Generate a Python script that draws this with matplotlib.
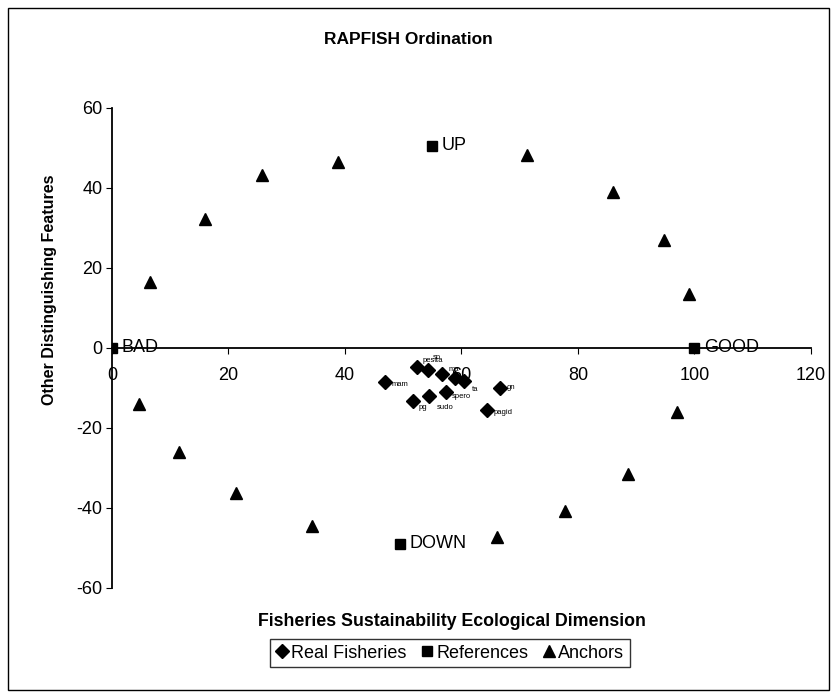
import matplotlib
matplotlib.use("Agg")
import matplotlib.pyplot as plt
from matplotlib.patches import Rectangle
from matplotlib.lines import Line2D

plt.rcParams['font.family'] = ['Liberation Sans', 'DejaVu Sans']
plt.rcParams['axes.unicode_minus'] = False

# Real fisheries (diamonds)
fish_x = [46.8, 52.3, 54.3, 56.6, 58.8, 60.5, 51.7, 54.5, 57.4, 66.6, 64.3]
fish_y = [-8.5, -4.8, -5.6, -6.5, -7.4, -8.3, -13.2, -12.0, -11.0, -9.9, -15.4]
fish_labels = ["mam", "pesca", "sp", "ma", "tu", "ta", "pg", "sudo", "spero", "gn", "pagid"]

# Reference points (squares)
ref_x = [0, 100, 55, 49.4]
ref_y = [0, 0, 50.5, -48.9]
ref_labels = ["BAD", "GOOD", "UP", "DOWN"]

# Anchors (triangles)
anc_x = [6.5, 16.0, 25.7, 38.8, 71.3, 86.0, 94.7, 99.1, 97.0, 88.6, 77.8, 66.1, 34.3, 21.3, 11.5, 4.6]
anc_y = [16.5, 32.2, 43.2, 46.4, 48.2, 39.0, 26.9, 13.5, -15.9, -31.6, -40.8, -47.3, -44.4, -36.3, -26.1, -14.0]

x_ticks = [0, 20, 40, 60, 80, 100, 120]
y_ticks = [-60, -40, -20, 0, 20, 40, 60]

# label offsets (points) for the crowded fisheries labels
fish_offsets = [(5, -2), (4, 5), (3, 9), (5, 3), (4, -1), (5, -6), (4, -5), (5, -8),
                (4, -3), (5, 0), (5, -2)]

fig = plt.figure(figsize=(8.37, 6.98), dpi=100)
ax = fig.add_axes([112 / 837, 1 - 588 / 698, (811 - 112) / 837, (588 - 108) / 698])
ax.set_xlim(0, 120)
ax.set_ylim(-60, 60)

ax.plot(fish_x, fish_y, linestyle='none', marker='D', markersize=7.5, color='black')
ax.plot(ref_x, ref_y, linestyle='none', marker='s', markersize=6.5, color='black')
ax.plot(anc_x, anc_y, linestyle='none', marker='^', markersize=8, color='black')

for (x, y, t), off in zip(zip(fish_x, fish_y, fish_labels), fish_offsets):
    ax.annotate(t, (x, y), xytext=off, textcoords='offset points', fontsize=5.5,
                ha='left', va='center')
for x, y, t in zip(ref_x, ref_y, ref_labels):
    ax.annotate(t, (x, y), xytext=(7, 0), textcoords='offset points', fontsize=13,
                ha='left', va='center')

ax.spines['top'].set_visible(False)
ax.spines['right'].set_visible(False)
ax.spines['bottom'].set_position(('data', 0))
ax.spines['left'].set_linewidth(1.3)
ax.spines['bottom'].set_linewidth(1.3)
ax.set_xticks(x_ticks)
ax.set_yticks(y_ticks)
ax.tick_params(axis='x', direction='out', length=4, pad=10, labelsize=13)
ax.tick_params(axis='y', direction='out', length=4, pad=3, labelsize=13)

fig.text(408 / 837, 1 - 40 / 698, "RAPFISH Ordination", fontsize=12.5, fontweight='bold',
         ha='center', va='center')
fig.text(50 / 837, 1 - 290 / 698, "Other Distinguishing Features", fontsize=11.5,
         fontweight='bold', rotation=90, ha='center', va='center')
fig.text(452 / 837, 1 - 621 / 698, "Fisheries Sustainability Ecological Dimension",
         fontsize=12.8, fontweight='bold', ha='center', va='center')

handles = [
    Line2D([], [], linestyle='none', marker='D', markersize=7, color='black'),
    Line2D([], [], linestyle='none', marker='s', markersize=7, color='black'),
    Line2D([], [], linestyle='none', marker='^', markersize=8, color='black'),
]
leg = fig.legend(handles, ["Real Fisheries", "References", "Anchors"], loc='center',
                 bbox_to_anchor=(450 / 837, 1 - 653 / 698), ncol=3, fontsize=13,
                 frameon=True, fancybox=False, edgecolor='black', handlelength=0.7,
                 handletextpad=0.15, columnspacing=0.8, borderpad=0.3)
leg.get_frame().set_linewidth(1.0)

fig.patches.append(Rectangle((8 / 837, 1 - 690 / 698), (829 - 8) / 837, (690 - 8) / 698,
                             transform=fig.transFigure, fill=False, edgecolor='black',
                             linewidth=1.0))

fig.savefig("out.png", dpi=100)
